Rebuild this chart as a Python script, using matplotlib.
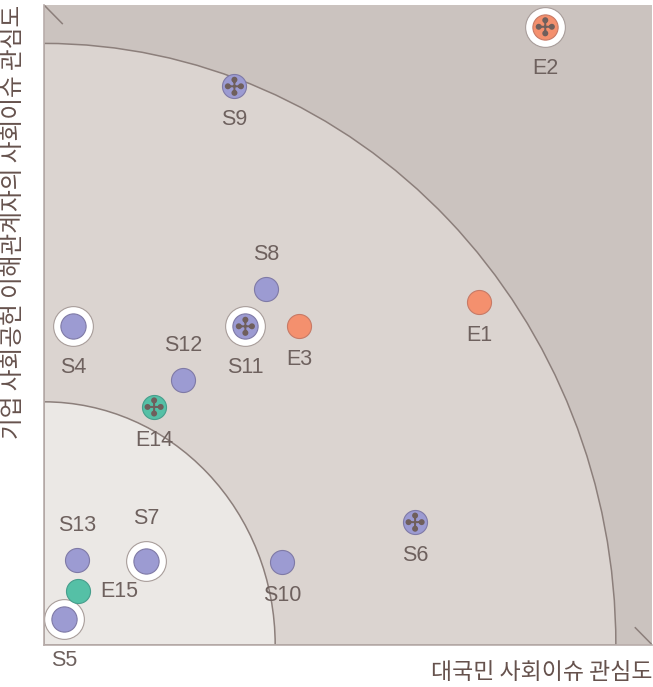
import numpy as np
import matplotlib.pyplot as plt
from matplotlib.patches import Wedge
from matplotlib.path import Path

plt.rcParams['font.family'] = ['Noto Sans CJK KR', 'DejaVu Sans']

# issue positions: x = public interest, y = stakeholder interest (0-100)
names = ["E1", "E2", "E3", "E14", "E15",
         "S4", "S5", "S6", "S7", "S8", "S9", "S10", "S11", "S12", "S13"]
xs = [71.5, 82.4, 41.9, 18.1, 5.6,
      4.8, 3.3, 61.0, 16.8, 36.5, 31.3, 39.1, 33.1, 22.9, 5.4]
ys = [53.6, 96.6, 49.8, 37.2, 8.4,
      49.8, 4.1, 19.2, 13.1, 55.6, 87.3, 13.0, 49.8, 41.4, 13.3]
groups = ["econ", "econ", "econ", "env", "env",
          "soc", "soc", "soc", "soc", "soc", "soc", "soc", "soc", "soc", "soc"]
ringed = ["E2", "S4", "S5", "S7", "S11"]
crossed = ["E2", "S9", "S11", "E14", "S6"]
label_side = {"S8": "above", "S12": "above", "S13": "above", "S7": "above",
              "E15": "right"}

zone_radii = [94, 38]
zone_colors = ["#dbd4d0", "#ebe8e5"]

fill = {"econ": "#f4906e", "env": "#55c0a6", "soc": "#9c9bd2"}
edge = {"econ": "#c77a66", "env": "#479e8c", "soc": "#7f7aa6"}


def cross_marker():
    # four dots joined by a thin cross
    parts = []
    for cx, cy in [(1, 0), (-1, 0), (0, 1), (0, -1)]:
        parts.append(Path.circle((cx * 0.66, cy * 0.66), 0.3))
    w = 0.1
    parts.append(Path([(-0.66, -w), (0.66, -w), (0.66, w), (-0.66, w), (-0.66, -w)],
                      [1, 2, 2, 2, 79]))
    parts.append(Path([(-w, -0.66), (w, -0.66), (w, 0.66), (-w, 0.66), (-w, -0.66)],
                      [1, 2, 2, 2, 79]))
    return Path.make_compound_path(*parts)


def main():
    fig = plt.figure(figsize=(6.53, 6.87), dpi=100)
    ax = fig.add_axes([0.0674, 0.0611, 0.9316, 0.9316])
    ax.set_xlim(0, 100)
    ax.set_ylim(0, 100)
    ax.set_facecolor("#cbc3bf")

    # short diagonal marks in the two outer corners
    ax.plot([0, 3.0], [100, 97.1], color="#8c7f7b", lw=1.1, zorder=1)
    ax.plot([97.2, 100], [2.7, 0], color="#8c7f7b", lw=1.1, zorder=1)
    for r, c in zip(zone_radii, zone_colors):
        ax.add_patch(Wedge((0, 0), r, 0, 90, facecolor=c, edgecolor="#8c7f7b",
                           lw=1.1, zorder=2))

    for sp in ["top", "right"]:
        ax.spines[sp].set_visible(False)
    for sp in ["left", "bottom"]:
        ax.spines[sp].set_color("#b8adaa")
        ax.spines[sp].set_linewidth(1.2)
        ax.spines[sp].set_zorder(5)
    ax.set_xticks([])
    ax.set_yticks([])

    cm = cross_marker()
    lbl = dict(ha="center", va="center", fontsize=15.5,
               family=["Liberation Sans"], color="#6e615e", zorder=6,
               textcoords="offset points")
    for n, x, y, g in zip(names, xs, ys, groups):
        if n in ringed:
            ax.scatter(x, y, s=820, facecolor="white", edgecolor="#a89d9a",
                       lw=0.8, zorder=3)
            ax.scatter(x, y, s=330, facecolor=fill[g], edgecolor=edge[g],
                       lw=0.8, zorder=4)
            off = 30
        else:
            ax.scatter(x, y, s=300, facecolor=fill[g], edgecolor=edge[g],
                       lw=0.8, zorder=4)
            off = 24
        if n in crossed:
            ax.scatter(x, y, s=190, marker=cm, facecolor="#6f5f5c",
                       edgecolor="none", zorder=5)
        side = label_side.get(n, "below")
        if side == "below":
            ax.annotate(n, (x, y), xytext=(0, -off), **lbl)
        elif side == "above":
            ax.annotate(n, (x, y), xytext=(0, off + 1), **lbl)
        else:
            lbl_r = dict(lbl, ha="left")
            ax.annotate(n, (x, y), xytext=(16, 0), **lbl_r)

    fig.text(0.9985, 0.021, "대국민 사회이슈 관심도", ha="right", va="center",
             fontsize=16.5, color="#66524d")
    fig.text(0.021, 0.9927, "기업 사회공헌 이해관계자의 사회이슈 관심도", ha="center",
             va="top", rotation=90, fontsize=17, color="#66524d")

    plt.savefig("out.png", dpi=100)


if __name__ == "__main__":
    main()
